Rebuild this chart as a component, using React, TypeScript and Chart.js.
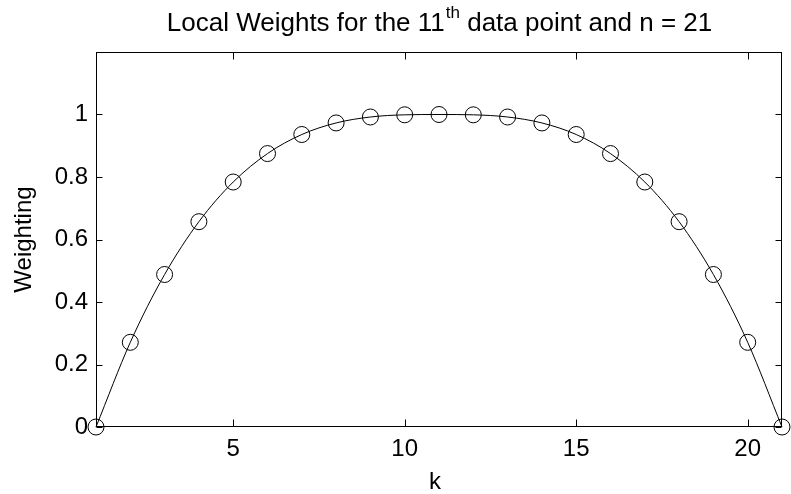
import React, { useEffect, useRef } from "react";
import { Chart, registerables } from "chart.js";

Chart.register(...registerables);

const kValues = [1, 2, 3, 4, 5, 6, 7, 8, 9, 10, 11, 12, 13, 14, 15, 16, 17, 18, 19, 20, 21];
const weights = [0, 0.271, 0.488, 0.657, 0.784, 0.875, 0.936, 0.973, 0.992, 0.999, 1, 0.999, 0.992, 0.973, 0.936, 0.875, 0.784, 0.657, 0.488, 0.271, 0];
const xTicks = [5, 10, 15, 20];
const yTicks = [0, 0.2, 0.4, 0.6, 0.8, 1];
const titleMain = "Local Weights for the 11";
const titleSup = "th";
const titleRest = " data point and n = 21";
const xLabel = "k";
const yLabel = "Weighting";

const FONT = '"Liberation Sans", Arial, Helvetica, sans-serif';

const framePlugin = {
  id: "matlabFrame",
  beforeDatasetsDraw(chart: any) {
    const { ctx, chartArea: a, scales } = chart;
    ctx.save();
    ctx.strokeStyle = "#000";
    ctx.lineWidth = 1;
    const L = Math.round(a.left) + 0.5;
    const R = Math.round(a.right) - 0.5;
    const T = Math.round(a.top) + 0.5;
    const B = Math.round(a.bottom) - 0.5;
    ctx.strokeRect(L, T, R - L, B - T);
    ctx.beginPath();
    for (const t of scales.x.ticks) {
      const px = Math.round(scales.x.getPixelForValue(t.value)) + 0.5;
      ctx.moveTo(px, B);
      ctx.lineTo(px, B - 7);
      ctx.moveTo(px, T);
      ctx.lineTo(px, T + 7);
    }
    for (const t of scales.y.ticks) {
      const py = Math.round(scales.y.getPixelForValue(t.value)) + 0.5;
      ctx.moveTo(L, py);
      ctx.lineTo(L + 6, py);
      ctx.moveTo(R, py);
      ctx.lineTo(R - 6, py);
    }
    ctx.stroke();
    ctx.restore();
  },
  afterDraw(chart: any) {
    const { ctx, chartArea: a } = chart;
    ctx.save();
    ctx.fillStyle = "#000";
    const cx = (a.left + a.right) / 2;
    // title with superscript
    const mainFont = `26px ${FONT}`;
    const supFont = `17px ${FONT}`;
    ctx.font = mainFont;
    const w1 = ctx.measureText(titleMain).width;
    const w3 = ctx.measureText(titleRest).width;
    ctx.font = supFont;
    const w2 = ctx.measureText(titleSup).width;
    let x = cx - (w1 + w2 + w3) / 2;
    const base = 31;
    ctx.textBaseline = "alphabetic";
    ctx.textAlign = "left";
    ctx.font = mainFont;
    ctx.fillText(titleMain, x, base);
    x += w1;
    ctx.font = supFont;
    ctx.fillText(titleSup, x + 1, base - 13);
    x += w2 + 1;
    ctx.font = mainFont;
    ctx.fillText(titleRest, x, base);
    // x label
    ctx.font = `24px ${FONT}`;
    ctx.textAlign = "center";
    ctx.fillText(xLabel, cx - 4, 489);
    // y label
    ctx.translate(31, (a.top + a.bottom) / 2);
    ctx.rotate(-Math.PI / 2);
    ctx.fillText(yLabel, 0, 0);
    ctx.restore();
  },
};

export default function App() {
  const canvasRef = useRef<HTMLCanvasElement | null>(null);

  useEffect(() => {
    document.body.style.margin = "0";
    const canvas = canvasRef.current;
    if (!canvas) return;
    const chart = new Chart(canvas, {
      type: "line",
      data: {
        datasets: [
          {
            data: kValues.map((k, i) => ({ x: k, y: weights[i] })),
            borderColor: "#000",
            borderWidth: 1,
            backgroundColor: "rgba(0,0,0,0)",
            pointRadius: 8,
            pointHoverRadius: 8,
            pointBorderWidth: 1,
            pointBorderColor: "#000",
            pointBackgroundColor: "rgba(0,0,0,0)",
            cubicInterpolationMode: "monotone",
            clip: false as any,
            fill: false,
          },
        ],
      },
      options: {
        animation: false,
        responsive: false,
        maintainAspectRatio: false,
        layout: { padding: { left: 0, right: 5, top: 52, bottom: 0 } },
        plugins: {
          legend: { display: false },
          tooltip: { enabled: false },
          title: { display: false },
        },
        scales: {
          x: {
            type: "linear",
            position: "bottom",
            min: 1,
            max: 21,
            grid: { display: false, drawTicks: false },
            border: { display: false },
            ticks: {
              font: { family: FONT, size: 24 },
              color: "#000",
              padding: 8,
              maxRotation: 0,
            },
            afterBuildTicks: (s: any) => {
              s.ticks = xTicks.map((v) => ({ value: v }));
            },
            afterFit: (s: any) => {
              s.height = 67;
            },
          },
          y: {
            type: "linear",
            position: "left",
            min: 0,
            max: 1.2,
            grid: { display: false, drawTicks: false },
            border: { display: false },
            ticks: {
              font: { family: FONT, size: 24 },
              color: "#000",
              padding: 8,
              callback: (v: any) => String(v),
            },
            afterBuildTicks: (s: any) => {
              s.ticks = yTicks.map((v) => ({ value: v }));
            },
            afterFit: (s: any) => {
              s.width = 96;
            },
          },
        },
      },
      plugins: [framePlugin],
    });
    return () => chart.destroy();
  }, []);

  return (
    <div style={{ position: "absolute", left: 0, top: 0, width: 791, height: 494 }}>
      <canvas ref={canvasRef} width={791} height={494} style={{ width: 791, height: 494 }} />
    </div>
  );
}
